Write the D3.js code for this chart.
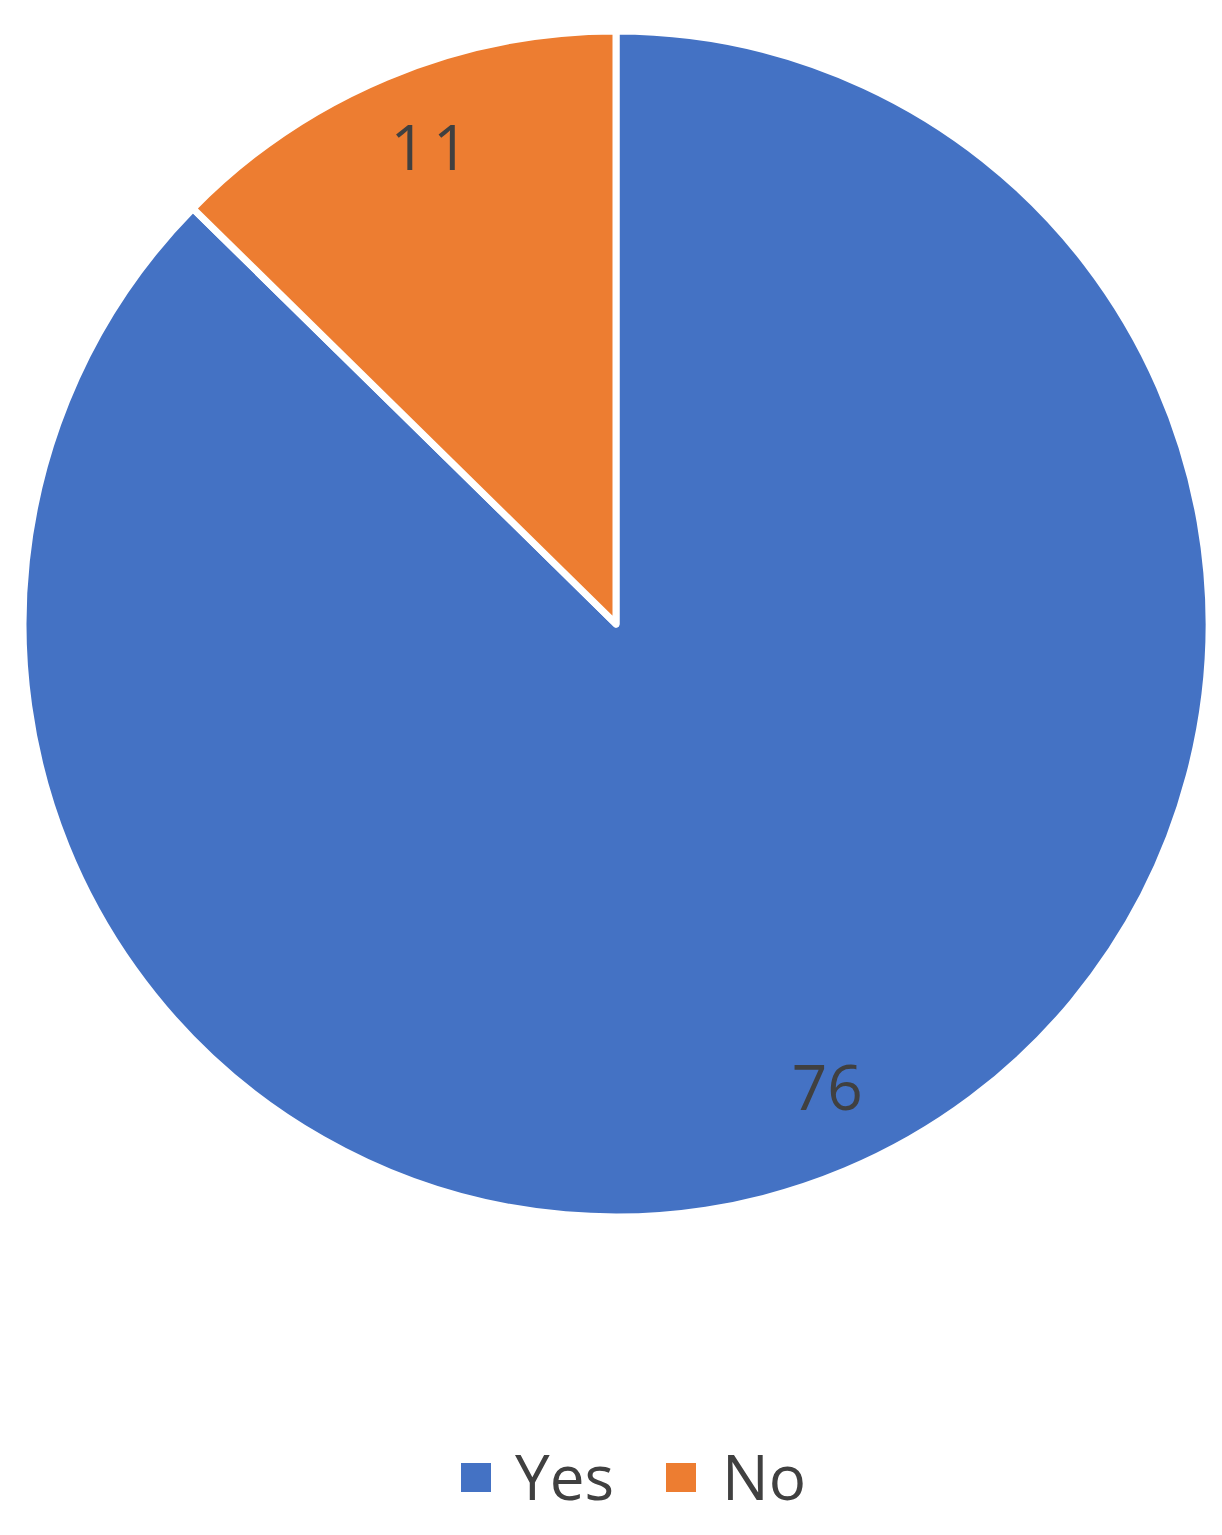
<!DOCTYPE html>
<html>
<head>
<meta charset="utf-8">
<script src="https://cdn.jsdelivr.net/npm/d3@7"></script>
<style>
  body { margin: 0; background: #fff; }
  text { font-family: "Open Sans", "Noto Sans", sans-serif; fill: #404040; }
</style>
</head>
<body>
<svg width="1222" height="1535"></svg>
<script>
const categories = ["Yes", "No"];
const values = [76, 11];
const colors = ["#4472C4", "#ED7D31"];

const svg = d3.select("svg");

const cx = 616, cy = 624, radius = 593;

const data = categories.map((c, i) => ({ name: c, value: values[i] }));

// pie goes clockwise from 12 o'clock, first slice = Yes
const pie = d3.pie().value(d => d.value).sort(null);
const arcs = pie(data);
const arc = d3.arc().innerRadius(0).outerRadius(radius);

const g = svg.append("g").attr("transform", `translate(${cx},${cy})`);

g.selectAll("path")
    .data(arcs)
    .enter()
    .append("path")
    .attr("d", arc)
    .attr("fill", (d, i) => colors[i])
    .attr("stroke", "#fff")
    .attr("stroke-width", 7)
    .attr("stroke-linejoin", "round");

// label placement, Excel style "best fit"
const labelR = radius * 0.86;
const labelAngle = d => {
    if (d.data.name === "No") return (d.startAngle + d.endAngle) / 2 + 0.03;
    return Math.PI - (arcs[1].endAngle - arcs[1].startAngle) / 2 - 0.03;
};

g.selectAll("text.lbl")
    .data(arcs)
    .enter()
    .append("text")
    .attr("class", "lbl")
    .attr("x", d => labelR * Math.sin(labelAngle(d)))
    .attr("y", d => -labelR * Math.cos(labelAngle(d)))
    .attr("dy", "0.36em")
    .attr("text-anchor", "middle")
    .style("font-size", "62px")
    .style("letter-spacing", d => d.data.name === "No" ? "7px" : "0px")
    .text(d => d.data.value);

// legend
const legend = svg.append("g").attr("class", "legend");
const legendX = [461, 666];
const item = legend.selectAll("g")
    .data(data)
    .enter()
    .append("g")
    .attr("transform", (d, i) => `translate(${legendX[i]},1463)`);

item.append("rect")
    .attr("width", 30)
    .attr("height", 29)
    .attr("fill", (d, i) => colors[i]);

item.append("text")
    .attr("x", (d, i) => i === 0 ? 54 : 56)
    .attr("y", 37)
    .style("font-size", "62px")
    .text(d => d.name);
</script>
</body>
</html>
